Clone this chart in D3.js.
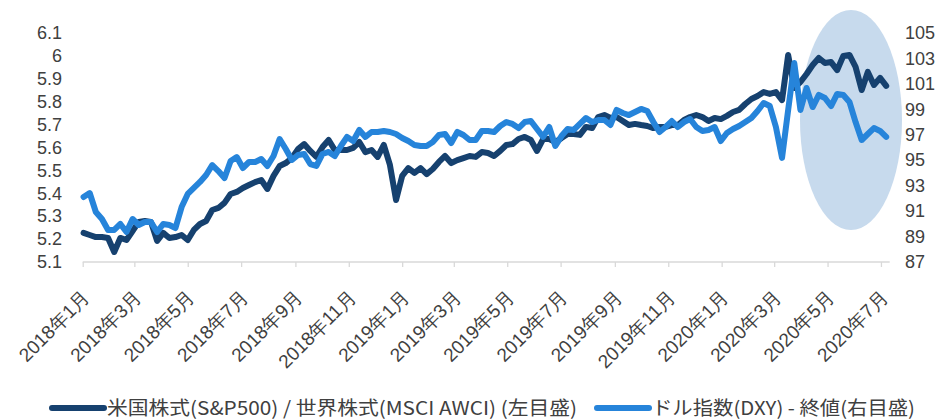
<!DOCTYPE html>
<html>
<head>
<meta charset="utf-8">
<script src="https://cdn.jsdelivr.net/npm/d3@7"></script>
<style>
  body { margin: 0; background: #fff; }
  svg { display: block; font-family: "Noto Sans CJK JP", "Noto Sans", sans-serif; }
</style>
</head>
<body>
<svg id="chart" width="942" height="419"></svg>
<script>
// weekly observations starting 2018-01-02
const startDate = "2018-01-02";

// S&P500 / MSCI ACWI ratio (left axis)
const ratioValues = [
    5.227, 5.218, 5.209, 5.209, 5.205, 5.144, 5.205, 5.196, 5.235, 5.275,
    5.279, 5.275, 5.192, 5.227, 5.205, 5.209, 5.218, 5.196, 5.240, 5.266,
    5.279, 5.327, 5.336, 5.358, 5.397, 5.406, 5.423, 5.436, 5.449, 5.458,
    5.419, 5.476, 5.519, 5.532, 5.554, 5.593, 5.615, 5.585, 5.559, 5.602,
    5.633, 5.589, 5.589, 5.589, 5.598, 5.624, 5.580, 5.589, 5.559, 5.611,
    5.524, 5.371, 5.476, 5.510, 5.489, 5.510, 5.484, 5.506, 5.537, 5.563,
    5.532, 5.545, 5.554, 5.563, 5.559, 5.580, 5.576, 5.563, 5.585, 5.611,
    5.615, 5.637, 5.646, 5.633, 5.585, 5.637, 5.637, 5.624, 5.641, 5.659,
    5.659, 5.655, 5.690, 5.685, 5.733, 5.742, 5.729, 5.733, 5.716, 5.698,
    5.703, 5.698, 5.694, 5.685, 5.690, 5.690, 5.698, 5.698, 5.720, 5.733,
    5.742, 5.733, 5.716, 5.729, 5.724, 5.738, 5.755, 5.764, 5.790, 5.812,
    5.825, 5.842, 5.834, 5.842, 5.807, 6.004, 5.860, 5.886, 5.921, 5.960,
    5.991, 5.969, 5.973, 5.938, 6.000, 6.004, 5.952, 5.851, 5.930, 5.873,
    5.904, 5.869
];

// DXY close (right axis)
const dxyValues = [
    92.11, 92.42, 90.93, 90.38, 89.52, 89.52, 89.99, 89.36, 90.38, 89.91,
    90.14, 90.14, 89.36, 89.99, 89.91, 89.67, 91.32, 92.35, 92.82, 93.29,
    93.84, 94.62, 94.15, 93.60, 94.94, 95.25, 94.39, 94.86, 94.86, 95.10,
    94.55, 95.33, 96.67, 95.88, 95.02, 95.41, 95.49, 94.70, 94.55, 95.49,
    95.65, 95.33, 96.12, 96.83, 96.51, 97.38, 96.83, 97.22, 97.22, 97.30,
    97.22, 97.06, 96.75, 96.51, 96.20, 96.12, 96.12, 96.43, 96.98, 97.06,
    96.35, 97.22, 96.98, 96.59, 96.59, 97.30, 97.30, 97.22, 97.69, 98.00,
    97.85, 97.53, 98.00, 98.08, 97.45, 96.83, 97.61, 96.12, 96.90, 97.45,
    97.38, 97.85, 98.32, 98.00, 98.16, 98.16, 97.77, 98.95, 98.71, 98.55,
    98.79, 99.03, 98.87, 98.00, 97.22, 97.61, 98.08, 97.61, 98.00, 98.24,
    97.61, 97.30, 97.38, 97.61, 96.51, 97.14, 97.45, 97.69, 98.00, 98.32,
    98.87, 99.50, 99.26, 97.61, 95.18, 98.95, 102.64, 98.95, 100.68, 99.18,
    100.13, 99.89, 99.26, 100.21, 100.13, 99.58, 98.00, 96.59, 97.06, 97.53,
    97.30, 96.83
];

const leftTicks = [5.1, 5.2, 5.3, 5.4, 5.5, 5.6, 5.7, 5.8, 5.9, 6, 6.1];
const rightTicks = [87, 89, 91, 93, 95, 97, 99, 101, 103, 105];
const legendLabels = [
    "米国株式(S&P500) / 世界株式(MSCI AWCI) (左目盛)",
    "ドル指数(DXY) - 終値(右目盛)"
];

const darkBlue = "#16416f";
const lightBlue = "#2684da";
const textColor = "#404040";

const svg = d3.select("#chart");
const parse = d3.timeParse("%Y-%m-%d");
const start = parse(startDate);
const dates = ratioValues.map((v, i) => d3.timeDay.offset(start, i * 7));

const x = d3.scaleTime()
    .domain([parse("2018-01-01"), parse("2020-07-11")])
    .range([82.7, 889.7]);
const yLeft = d3.scaleLinear().domain([5.1, 6.1]).range([262, 33]);
const yRight = d3.scaleLinear().domain([87, 105]).range([262, 33]);

// highlight ellipse behind the lines
svg.append("ellipse")
    .attr("cx", 851)
    .attr("cy", 120)
    .attr("rx", 51)
    .attr("ry", 110)
    .attr("fill", "#c7daed");

// x axis
const xAxis = svg.append("g")
    .attr("transform", "translate(0,262)")
    .call(d3.axisBottom(x)
        .tickValues(d3.timeMonth.every(2).range(parse("2018-01-01"), parse("2020-07-02")))
        .tickSize(5)
        .tickSizeOuter(0)
        .tickFormat(d => d3.timeFormat("%Y")(d) + "年" + (d.getMonth() + 1) + "月"));
xAxis.select(".domain").attr("stroke", "#d9d9d9").attr("stroke-width", 1.3)
    .attr("d", "M82.7,0H889.7");
xAxis.selectAll(".tick line").attr("stroke", "#d9d9d9").attr("stroke-width", 1.3);
xAxis.selectAll(".tick text")
    .attr("fill", textColor)
    .attr("font-size", 19)
    .attr("text-anchor", "end")
    .attr("dy", "0.35em")
    .attr("transform", "translate(3,32) rotate(-45)")
    .attr("x", 0)
    .attr("y", 0);

// left axis
const leftAxis = svg.append("g")
    .attr("transform", "translate(62,0)")
    .call(d3.axisLeft(yLeft).tickValues(leftTicks).tickSize(0).tickPadding(0)
        .tickFormat(d3.format("")));
leftAxis.select(".domain").remove();
leftAxis.selectAll("text").attr("fill", textColor).attr("font-size", 18);

// right axis
const rightAxis = svg.append("g")
    .attr("transform", "translate(905,0)")
    .call(d3.axisRight(yRight).tickValues(rightTicks).tickSize(0).tickPadding(0));
rightAxis.select(".domain").remove();
rightAxis.selectAll("text").attr("fill", textColor).attr("font-size", 18);

// lines
const ratioLine = d3.line()
    .x((d, i) => x(dates[i]))
    .y(d => yLeft(d));
const dxyLine = d3.line()
    .x((d, i) => x(dates[i]))
    .y(d => yRight(d));

svg.append("path")
    .datum(ratioValues)
    .attr("fill", "none")
    .attr("stroke", darkBlue)
    .attr("stroke-width", 6)
    .attr("stroke-linejoin", "round")
    .attr("stroke-linecap", "round")
    .attr("d", ratioLine);

svg.append("path")
    .datum(dxyValues)
    .attr("fill", "none")
    .attr("stroke", lightBlue)
    .attr("stroke-width", 6)
    .attr("stroke-linejoin", "round")
    .attr("stroke-linecap", "round")
    .attr("d", dxyLine);

// legend
const legend = svg.append("g").attr("transform", "translate(0,408)");
const legendItems = [
    { label: legendLabels[0], color: darkBlue, x0: 52, width: 470 },
    { label: legendLabels[1], color: lightBlue, x0: 597, width: 263 }
];
legendItems.forEach(item => {
    legend.append("line")
        .attr("x1", item.x0).attr("x2", item.x0 + 52)
        .attr("y1", 0).attr("y2", 0)
        .attr("stroke", item.color)
        .attr("stroke-width", 6)
        .attr("stroke-linecap", "round");
    legend.append("text")
        .attr("x", item.x0 + 55)
        .attr("y", 0)
        .attr("dy", "0.35em")
        .attr("fill", textColor)
        .attr("font-size", 19)
        .attr("textLength", item.width)
        .attr("lengthAdjust", "spacingAndGlyphs")
        .text(item.label);
});
</script>
</body>
</html>
